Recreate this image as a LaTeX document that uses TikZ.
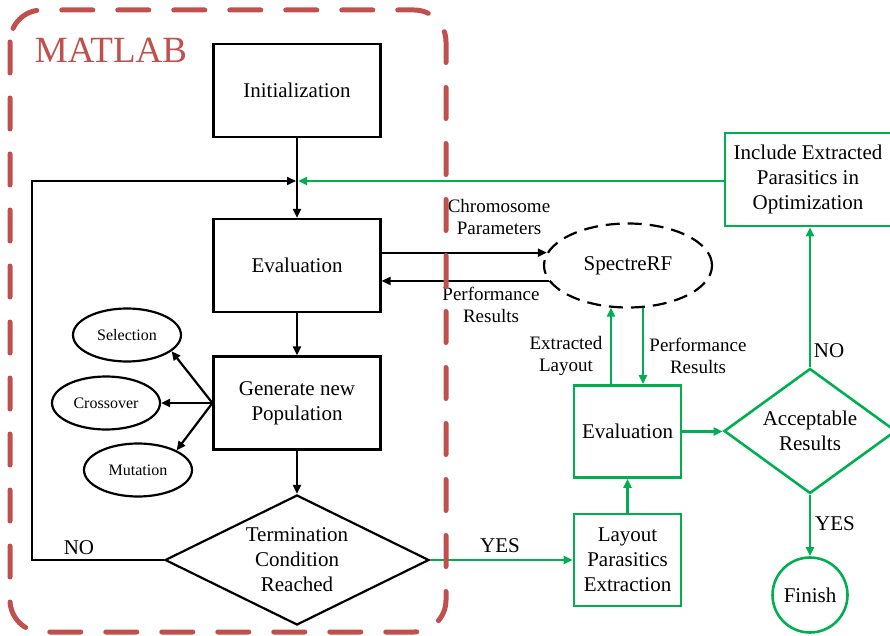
\documentclass[tikz,border=0pt]{standalone}
\usepackage{fontspec}
\setmainfont{Liberation Serif}
\usetikzlibrary{shapes.geometric,arrows.meta,calc}
\definecolor{mred}{HTML}{C0504D}
\definecolor{mgreen}{HTML}{00B050}
\newcommand\fsz[2]{\fontsize{#1}{#2}\selectfont}
\begin{document}
\begin{tikzpicture}[x=1pt,y=-1pt,
 base/.style={align=center, inner sep=0pt, font=\fsz{21}{25}},
 bbox/.style={base, draw, line width=2.2pt, minimum width=167pt, minimum height=93pt},
 gbox/.style={base, draw=mgreen, line width=2.6pt, minimum width=107pt, minimum height=92pt},
 bdia/.style={base, draw, diamond, line width=2.2pt, aspect=2.03, minimum width=264pt, minimum height=130pt},
 gdia/.style={base, draw=mgreen, diamond, line width=2.6pt, aspect=1.376, minimum width=172pt, minimum height=125pt},
 gcirc/.style={base, draw=mgreen, circle, line width=2.6pt, minimum size=75pt},
 oval/.style={draw, ellipse, line width=2.2pt, minimum width=108pt, minimum height=53pt, inner sep=0pt, font=\fsz{16}{19}},
 spx/.style={base, draw, ellipse, line width=2.2pt, dash pattern=on 14pt off 8pt, minimum width=168pt, minimum height=84pt},
 lbl/.style={align=center, inner sep=0pt, font=\fsz{19}{22}},
 arr/.style={line width=2.2pt, -{Triangle[length=9pt,width=8pt]}},
 garr/.style={arr, draw=mgreen, line width=2.6pt},
]
\useasboundingbox (0,0) rectangle (890,636);
\clip (0,0) rectangle (890,636);

% MATLAB side
\node[bbox] (init) at (297,90.5) {Initialization};
\node[bbox] (eval) at (297,265.5) {Evaluation};
\node[bbox] (gen) at (297,403) {Generate new\\Population};
\node[bdia] (term) at (297,560) {Termination\\Condition\\Reached};
\node[oval] (sel) at (127,335) {Selection};
\node[oval] (cross) at (106,403) {Crossover};
\node[oval] (mut) at (138,470) {Mutation};
\coordinate (J) at (297,181);
\coordinate (loopc) at (32,181);

% right side
\node[spx] (spectre) at (628,265.5) {SpectreRF};
\node[gbox] (eval2) at (627.5,431.5) {Evaluation};
\node[gbox] (lpe) at (627.5,560) {Layout\\Parasitics\\Extraction};
\node[gdia] (acc) at (810,431) {Acceptable\\Results};
\node[gcirc] (fin) at (810,595) {Finish};
\node[gbox, minimum width=166pt, minimum height=93pt] (incl) at (808,179.5) {Include Extracted\\Parasitics in\\Optimization};

% connectors
\draw[arr] (init) -- (eval);
\draw[arr, shorten >=1pt] (term.west) -| (loopc) -- (J);
\draw[garr, shorten >=1pt] (incl.west |- J) -- (J);
\draw[arr] (eval) -- (gen);
\draw[arr] (gen) -- (term);
\draw[arr] (gen.west) -- (sel.-20);
\draw[arr] (gen.west) -- (gen.west -| cross.east);
\draw[arr] (gen.west) -- (mut.27);
\draw[arr] (eval.east |- spectre.171) -- (spectre.171);
\draw[arr] (spectre.191) -- (eval.east |- spectre.191);
\draw[garr] (term.east) -- (term.east -| lpe.west);
\draw[garr] (lpe) -- (eval2);
\draw[garr] ($(eval2.north)+(-16.5,0)$) -- ($(spectre.south)+(-17,-1)$);
\draw[garr] ($(spectre.south)+(15,-1)$) -- ($(eval2.north)+(15.5,0)$);
\draw[garr] (eval2.east) -- (eval2.east -| acc.west);
\draw[garr] (acc.north) -- (acc.north |- incl.south);
\draw[garr] (acc) -- (fin);

% labels
\node[lbl] (l1) at (499,217) {Chromosome\\Parameters};
\node[lbl] (l2) at (491,305) {Performance\\Results};
\node[lbl] (l3) at (566,356) {Extracted\\Layout};
\node[lbl] (l4) at (698,356) {Performance\\Results};
\node[base] (yes1) at (500,546) {YES};
\node[base] (no1) at (79,548) {NO};
\node[base] (no2) at (829,351) {NO};
\node[base] (yes2) at (835,524) {YES};
\node[font=\fsz{37}{40}, text=mred, inner sep=0pt] (matlab) at (111,50) {MATLAB};

% MATLAB region
\draw[mred, line width=5pt, dash pattern=on 31pt off 25pt, line cap=round, rounded corners=32pt] (10,10) rectangle (446,632);
\end{tikzpicture}
\end{document}
